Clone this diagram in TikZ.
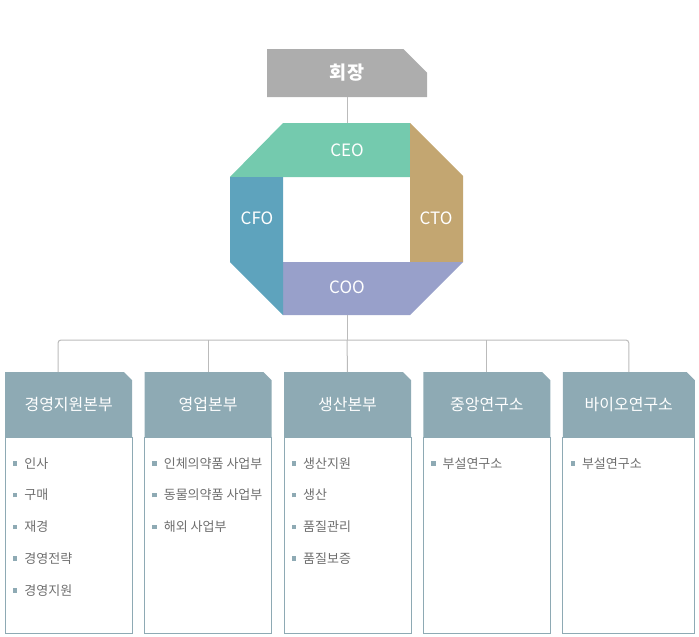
\documentclass[tikz,border=0pt]{standalone}
\usepackage{fontspec}
\setmainfont{Noto Sans CJK KR}
\usepackage{tikz}
\usetikzlibrary{positioning}
\usetikzlibrary{shapes.misc}

\definecolor{chaircol}{HTML}{ADADAD}
\definecolor{ceocol}{HTML}{74CAAE}
\definecolor{ctocol}{HTML}{C3A671}
\definecolor{cfocol}{HTML}{5EA3BD}
\definecolor{coocol}{HTML}{98A0CA}
\definecolor{headcol}{HTML}{8EAAB4}
\definecolor{wirecol}{HTML}{BBBBBB}
\definecolor{itemcol}{HTML}{6E6E6E}

\newcommand{\itmark}{\textcolor{headcol}{\raisebox{2.5pt}{\rule{4.5pt}{4.5pt}}}\hspace{7pt}}

\begin{document}
\begin{tikzpicture}[x=1pt, y=-1pt,
	head/.style={chamfered rectangle, chamfered rectangle corners=north east, chamfered rectangle sep=4pt, fill=headcol, text=white, minimum width=127pt, minimum height=65pt, inner sep=0pt, font=\fontsize{16}{19}\selectfont},
	body/.style={rectangle, draw=headcol, line width=1pt, minimum width=127pt, minimum height=196pt, inner sep=0pt},
	entry/.style={anchor=west, inner sep=0pt, text=itemcol, font=\fontsize{13}{16}\selectfont},
	role/.style={text=white, inner sep=0pt, font=\fontsize{17}{20}\selectfont},
	link/.style={draw=wirecol, line width=1pt}]
	\useasboundingbox (0,0) rectangle (699,637);

	% chairman
	\node [chamfered rectangle, chamfered rectangle corners=north east, chamfered rectangle sep=15pt, fill=chaircol, text=white, minimum width=160pt, minimum height=48pt, inner sep=0pt, font=\bfseries\fontsize{18.5}{21}\selectfont] (chair) at (347,73) {회장};

	% octagon
	\fill [ceocol] (283,123) -- (410,123) -- (410,177) -- (230,177) -- cycle;
	\fill [ctocol] (410,123) -- (463,176) -- (463,262) -- (410,262) -- cycle;
	\fill [coocol] (283,262) -- (463,262) -- (410,315) -- (283,315) -- cycle;
	\fill [cfocol] (230,177) -- (283,177) -- (283,315) -- (230,262) -- cycle;
	\node [role] (ceo) at (347,150) {CEO};
	\node [role] (cto) at (436,218) {CTO};
	\node [role] (cfo) at (257,218) {CFO};
	\node [role] (coo) at (347,287) {COO};
	\coordinate (ceo_top) at (347,123);
	\coordinate (coo_bot) at (347,315);
	\coordinate (hub) at (347,340);
	\coordinate (j1) at (58,340);

	% divisions
	\node [head, anchor=north west] (d1_0) at (5,372) {경영지원본부};
	\node [head, right=12pt of d1_0] (d2_0) {영업본부};
	\node [head, right=12pt of d2_0] (d3_0) {생산본부};
	\node [head, right=12pt of d3_0] (d4_0) {중앙연구소};
	\node [head, minimum width=132pt, right=12pt of d4_0] (d5_0) {바이오연구소};

	\node [body, below=0pt of d1_0] (d1_b) {};
	\node [body, below=0pt of d2_0] (d2_b) {};
	\node [body, below=0pt of d3_0] (d3_b) {};
	\node [body, below=0pt of d4_0] (d4_b) {};
	\node [body, minimum width=132pt, below=0pt of d5_0] (d5_b) {};

	\node [entry] (d1_1) at ([xshift=8pt, yshift=-26pt]d1_b.north west) {\itmark 인사};
	\node [entry, below=31.7pt of d1_1.west, anchor=west] (d1_2) {\itmark 구매};
	\node [entry, below=31.7pt of d1_2.west, anchor=west] (d1_3) {\itmark 재경};
	\node [entry, below=31.7pt of d1_3.west, anchor=west] (d1_4) {\itmark 경영전략};
	\node [entry, below=31.7pt of d1_4.west, anchor=west] (d1_5) {\itmark 경영지원};

	\node [entry] (d2_1) at ([xshift=8pt, yshift=-26pt]d2_b.north west) {\itmark 인체의약품 사업부};
	\node [entry, below=31.7pt of d2_1.west, anchor=west] (d2_2) {\itmark 동물의약품 사업부};
	\node [entry, below=31.7pt of d2_2.west, anchor=west] (d2_3) {\itmark 해외 사업부};

	\node [entry] (d3_1) at ([xshift=8pt, yshift=-26pt]d3_b.north west) {\itmark 생산지원};
	\node [entry, below=31.7pt of d3_1.west, anchor=west] (d3_2) {\itmark 생산};
	\node [entry, below=31.7pt of d3_2.west, anchor=west] (d3_3) {\itmark 품질관리};
	\node [entry, below=31.7pt of d3_3.west, anchor=west] (d3_4) {\itmark 품질보증};

	\node [entry] (d4_1) at ([xshift=8pt, yshift=-26pt]d4_b.north west) {\itmark 부설연구소};

	\node [entry] (d5_1) at ([xshift=8pt, yshift=-26pt]d5_b.north west) {\itmark 부설연구소};

	% connectors
	\draw [link] (chair.south) -- (ceo_top);
	\draw [link] (coo_bot) -- (hub);
	\draw [link, rounded corners=3pt] (j1 |- d1_0.north) -- (j1) -- (d5_0.north |- hub) -- (d5_0.north);
	\draw [link] (d2_0.north) -- (d2_0.north |- hub);
	\draw [link] (d3_0.north) -- (hub);
	\draw [link] (d4_0.north) -- (d4_0.north |- hub);
\end{tikzpicture}
\end{document}
